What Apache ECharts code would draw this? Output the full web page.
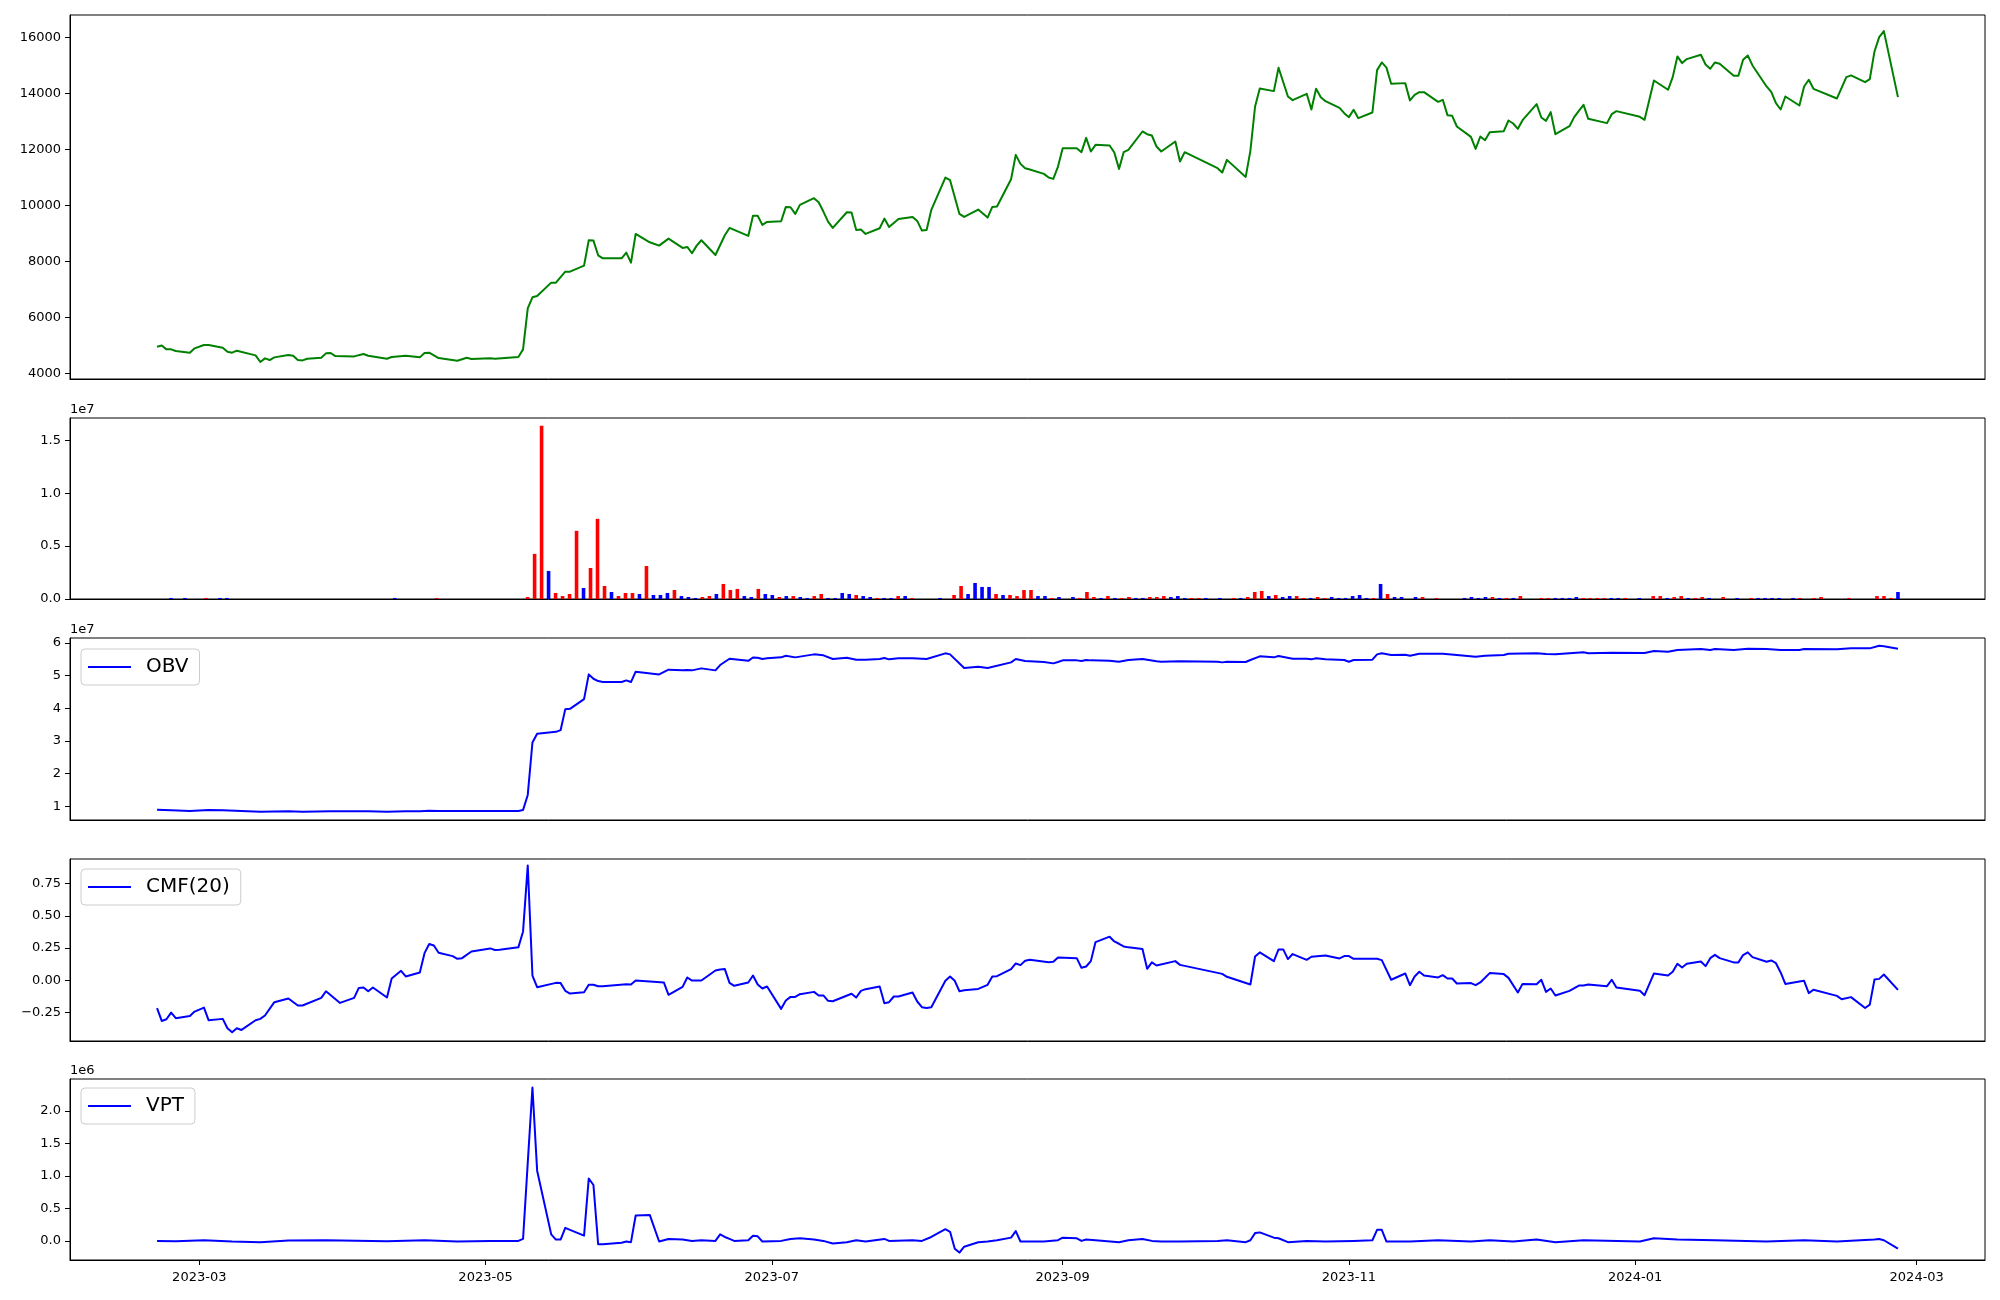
<!DOCTYPE html>
<html><head><meta charset="utf-8">
<script src="https://cdn.jsdelivr.net/npm/echarts@6/dist/echarts.min.js"></script>
<style>html,body{margin:0;padding:0;background:#fff}#c{width:2000px;height:1300px}</style>
</head><body><div id="c"></div>
<script>
// ---------------- DATA ----------------
const xTickLabels = ['2023-03','2023-05','2023-07','2023-09','2023-11','2024-01','2024-03'];
const priceTicks = [4000,6000,8000,10000,12000,14000,16000];
const volTicksE7 = [0,0.5,1.0,1.5];
const obvTicksE7 = [1,2,3,4,5,6];
const cmfTicks = [-0.25,0,0.25,0.5,0.75];
const vptTicksE6 = [0,0.5,1.0,1.5,2.0];
// market closed days (the volume panel is drawn by trading-day index)
const marketHolidays = ['2023-03-01','2023-05-01','2023-05-05','2023-05-29','2023-06-06','2023-08-15','2023-09-28','2023-09-29','2023-10-02','2023-10-03','2023-10-09','2023-12-25','2023-12-29','2024-01-01','2024-02-09','2024-02-12'];

const priceDates = [
'2023-02-20','2023-02-21','2023-02-22','2023-02-23','2023-02-24','2023-02-27','2023-02-28',
'2023-03-02','2023-03-03','2023-03-06','2023-03-07','2023-03-08','2023-03-09','2023-03-13','2023-03-14','2023-03-15','2023-03-16','2023-03-17','2023-03-20','2023-03-21','2023-03-22','2023-03-23','2023-03-24','2023-03-27','2023-03-28','2023-03-29','2023-03-30',
'2023-04-03','2023-04-05','2023-04-06','2023-04-10','2023-04-11','2023-04-14','2023-04-17','2023-04-18','2023-04-19','2023-04-21','2023-04-25','2023-04-27','2023-04-28',
'2023-05-02','2023-05-03','2023-05-08','2023-05-09','2023-05-10','2023-05-11','2023-05-12','2023-05-15','2023-05-16','2023-05-18','2023-05-19','2023-05-22','2023-05-23','2023-05-24','2023-05-25','2023-05-26','2023-05-30','2023-05-31',
'2023-06-01','2023-06-02','2023-06-05','2023-06-07','2023-06-09','2023-06-12','2023-06-13','2023-06-14','2023-06-15','2023-06-16','2023-06-19','2023-06-21','2023-06-22','2023-06-26','2023-06-27','2023-06-28','2023-06-29','2023-06-30',
'2023-07-03','2023-07-04','2023-07-05','2023-07-06','2023-07-07','2023-07-10','2023-07-11','2023-07-12','2023-07-13','2023-07-14','2023-07-17','2023-07-18','2023-07-19','2023-07-20','2023-07-21','2023-07-24','2023-07-25','2023-07-26','2023-07-28','2023-07-31',
'2023-08-01','2023-08-02','2023-08-03','2023-08-04','2023-08-07','2023-08-08','2023-08-10','2023-08-11','2023-08-14','2023-08-16','2023-08-17','2023-08-18','2023-08-21','2023-08-22','2023-08-23','2023-08-24','2023-08-25','2023-08-28','2023-08-29','2023-08-30','2023-08-31',
'2023-09-01','2023-09-04','2023-09-05','2023-09-06','2023-09-07','2023-09-08','2023-09-11','2023-09-12','2023-09-13','2023-09-14','2023-09-15','2023-09-18','2023-09-19','2023-09-20','2023-09-21','2023-09-22','2023-09-25','2023-09-26','2023-09-27',
'2023-10-04','2023-10-05','2023-10-06','2023-10-10','2023-10-11','2023-10-12','2023-10-13','2023-10-16','2023-10-17','2023-10-19','2023-10-20','2023-10-23','2023-10-24','2023-10-25','2023-10-26','2023-10-27','2023-10-30','2023-10-31',
'2023-11-01','2023-11-02','2023-11-03','2023-11-06','2023-11-07','2023-11-08','2023-11-09','2023-11-10','2023-11-13','2023-11-14','2023-11-15','2023-11-16','2023-11-17','2023-11-20','2023-11-21','2023-11-22','2023-11-23','2023-11-24','2023-11-27','2023-11-28','2023-11-29','2023-11-30',
'2023-12-01','2023-12-04','2023-12-05','2023-12-06','2023-12-07','2023-12-08','2023-12-11','2023-12-12','2023-12-13','2023-12-14','2023-12-15','2023-12-18','2023-12-19','2023-12-20','2023-12-21','2023-12-22','2023-12-26','2023-12-27','2023-12-28',
'2024-01-02','2024-01-03','2024-01-05','2024-01-08','2024-01-09','2024-01-10','2024-01-11','2024-01-12','2024-01-15','2024-01-16','2024-01-17','2024-01-18','2024-01-19','2024-01-22','2024-01-23','2024-01-24','2024-01-25','2024-01-26','2024-01-29','2024-01-30','2024-01-31',
'2024-02-01','2024-02-02','2024-02-05','2024-02-06','2024-02-07','2024-02-08','2024-02-13','2024-02-15','2024-02-16','2024-02-19','2024-02-20','2024-02-21','2024-02-22','2024-02-23','2024-02-26'
];
const priceValues = [
4950,4990,4855,4855,4795,4736,4891,
5010,5010,4914,4771,4736,4807,4640,4402,4533,4473,4569,4652,4628,4473,4461,4521,4557,4712,4724,4616,
4604,4688,4628,4521,4581,4628,4569,4724,4736,4545,4450,4557,4509,
4533,4521,4581,4855,6321,6714,6762,7239,7239,7632,7632,7847,8753,8741,8216,8109,8109,8312,
7954,8979,8681,8562,8812,8478,8514,8288,8562,8753,8228,8931,9194,8908,9630,9630,9301,9408,
9432,9945,9933,9694,10016,10255,10112,9778,9420,9194,9754,9742,9122,9134,8979,9182,9527,9229,9516,9587,
9444,9098,9122,9837,10994,10898,9694,9587,9849,9563,9945,9957,10934,11804,11482,11327,11280,11125,10994,10946,11387,
12043,12043,11900,12412,11923,12162,12138,11888,11304,11900,11983,12639,12543,12496,12102,11923,12281,11566,11900,
11327,11172,11625,11017,11947,13533,14176,14081,14915,13890,13759,13986,13425,14164,13866,13723,13485,13294,
13151,13413,13115,13318,14832,15106,14920,14343,14367,13747,13950,14045,14045,13699,13771,13223,13199,12817,12448,12019,12460,12329,
12615,12651,13032,12925,12734,13044,13616,13139,13020,13330,12543,12829,13151,13378,13592,13092,12937,13258,13366,
13163,13056,14462,14129,14582,15321,15082,15225,15380,15034,14880,15106,15058,14629,14629,15201,15356,14999,14248,14057,13652,
13425,13890,13568,14248,14486,14164,13819,14582,14642,14403,14510,15499,16012,16226,13866
];

// volume, in millions; volUp: 1 = red (up), 0 = blue (down)
const volDates = [
'2023-02-22','2023-02-24',
'2023-03-02','2023-03-06','2023-03-07',
'2023-04-10','2023-04-18',
'2023-05-09','2023-05-10','2023-05-11','2023-05-12','2023-05-15','2023-05-16','2023-05-17','2023-05-18','2023-05-19','2023-05-22','2023-05-23','2023-05-24','2023-05-25','2023-05-26','2023-05-30','2023-05-31',
'2023-06-01','2023-06-02','2023-06-05','2023-06-07','2023-06-08','2023-06-09','2023-06-12','2023-06-13','2023-06-14','2023-06-15','2023-06-16','2023-06-19','2023-06-20','2023-06-21','2023-06-22','2023-06-23','2023-06-26','2023-06-27','2023-06-28','2023-06-29','2023-06-30',
'2023-07-03','2023-07-04','2023-07-05','2023-07-06','2023-07-07','2023-07-10','2023-07-11','2023-07-12','2023-07-13','2023-07-14','2023-07-17','2023-07-18','2023-07-19','2023-07-20','2023-07-21','2023-07-24','2023-07-25','2023-07-26','2023-07-27',
'2023-08-02','2023-08-04','2023-08-07','2023-08-08','2023-08-09','2023-08-10','2023-08-11','2023-08-14','2023-08-16','2023-08-17','2023-08-18','2023-08-21','2023-08-22','2023-08-23','2023-08-24','2023-08-25','2023-08-28','2023-08-30','2023-08-31',
'2023-09-01','2023-09-04','2023-09-05','2023-09-06','2023-09-07','2023-09-08','2023-09-11','2023-09-12','2023-09-13','2023-09-14','2023-09-15','2023-09-18','2023-09-19','2023-09-20','2023-09-21','2023-09-22','2023-09-25','2023-09-26',
'2023-10-04','2023-10-06','2023-10-10','2023-10-11','2023-10-12','2023-10-13','2023-10-16','2023-10-17','2023-10-18','2023-10-19','2023-10-20','2023-10-23','2023-10-24','2023-10-25','2023-10-26','2023-10-27','2023-10-30','2023-10-31',
'2023-11-01','2023-11-02','2023-11-03','2023-11-06','2023-11-07','2023-11-08','2023-11-09','2023-11-10','2023-11-14','2023-11-15','2023-11-17','2023-11-23','2023-11-24','2023-11-27','2023-11-28','2023-11-29','2023-11-30',
'2023-12-01','2023-12-04','2023-12-05','2023-12-08','2023-12-11','2023-12-12','2023-12-13','2023-12-14','2023-12-15','2023-12-18','2023-12-19','2023-12-20','2023-12-21','2023-12-22','2023-12-26','2023-12-27',
'2024-01-02','2024-01-04','2024-01-05','2024-01-08','2024-01-09','2024-01-10','2024-01-11','2024-01-12','2024-01-15','2024-01-16','2024-01-18','2024-01-22','2024-01-24','2024-01-25','2024-01-26','2024-01-29','2024-01-30',
'2024-02-01','2024-02-02','2024-02-06','2024-02-07','2024-02-15','2024-02-21','2024-02-22','2024-02-23','2024-02-26'
];
const volMillions = [
0.1,0.1,
0.1,0.1,0.1,
0.1,0.1,
0.19,4.26,16.37,2.65,0.57,0.28,0.47,6.44,1.04,2.93,7.57,1.23,0.66,0.28,0.57,0.57,
0.47,3.12,0.38,0.38,0.57,0.85,0.28,0.19,0.1,0.19,0.28,0.47,1.42,0.85,0.95,0.28,0.19,0.95,0.47,0.38,0.19,
0.28,0.28,0.19,0.1,0.28,0.47,0.1,0.1,0.57,0.47,0.38,0.28,0.19,0.1,0.1,0.1,0.28,0.28,0.1,
0.1,0.38,1.23,0.47,1.51,1.14,1.14,0.47,0.38,0.38,0.28,0.85,0.85,0.28,0.28,0.1,0.19,0.19,0.1,
0.66,0.19,0.1,0.28,0.1,0.1,0.19,0.1,0.1,0.19,0.19,0.28,0.19,0.28,0.1,0.1,0.1,0.1,
0.1,0.1,0.1,0.19,0.66,0.76,0.28,0.38,0.19,0.28,0.28,0.1,0.1,0.19,0.1,0.19,0.1,0.1,
0.28,0.38,0.1,0.1,1.42,0.47,0.19,0.19,0.19,0.19,0.1,0.1,0.19,0.1,0.19,0.19,0.1,
0.1,0.1,0.28,0.1,0.1,0.1,0.1,0.1,0.19,0.1,0.1,0.1,0.1,0.1,0.1,0.1,
0.1,0.28,0.28,0.1,0.19,0.28,0.1,0.1,0.19,0.1,0.19,0.1,0.1,0.1,0.1,0.1,0.1,
0.1,0.1,0.1,0.19,0.1,0.28,0.28,0.1,0.66
];
const volUp = [
0,0,
1,0,0,
0,1,
1,1,1,0,1,1,1,1,0,1,1,1,0,1,1,1,
0,1,0,0,0,1,0,0,0,1,1,0,1,1,1,0,0,1,0,0,1,
0,1,0,0,1,1,0,0,0,0,1,0,0,1,0,0,1,0,1,
0,1,1,0,0,0,0,1,0,1,1,1,1,0,0,1,0,0,1,
1,1,0,1,0,1,1,0,0,1,1,1,0,0,0,1,1,0,
0,1,0,1,1,1,0,1,0,0,1,1,0,1,1,0,0,0,
0,0,0,1,0,1,0,0,0,1,1,0,0,0,0,1,0,
1,0,1,1,1,0,0,0,0,1,1,1,1,0,0,1,
0,1,1,0,1,1,0,1,1,0,1,0,1,0,0,0,0,
0,1,1,1,1,1,1,1,0
];

// OBV, in units of 1e7
const obvDates = [
'2023-02-20','2023-02-23','2023-02-27',
'2023-03-03','2023-03-06','2023-03-10','2023-03-14','2023-03-20','2023-03-23','2023-03-29',
'2023-04-03','2023-04-06','2023-04-10','2023-04-14','2023-04-17','2023-04-19','2023-04-21','2023-04-26',
'2023-05-02','2023-05-04','2023-05-08','2023-05-09','2023-05-10','2023-05-11','2023-05-12','2023-05-16','2023-05-17','2023-05-18','2023-05-19','2023-05-22','2023-05-23','2023-05-24','2023-05-25','2023-05-26','2023-05-30','2023-05-31',
'2023-06-01','2023-06-02','2023-06-07','2023-06-09','2023-06-12','2023-06-13','2023-06-14','2023-06-16','2023-06-19','2023-06-20','2023-06-22','2023-06-26','2023-06-27','2023-06-28','2023-06-29','2023-06-30',
'2023-07-03','2023-07-04','2023-07-06','2023-07-10','2023-07-12','2023-07-14','2023-07-17','2023-07-19','2023-07-21','2023-07-24','2023-07-25','2023-07-26','2023-07-28','2023-07-31',
'2023-08-03','2023-08-07','2023-08-08','2023-08-11','2023-08-14','2023-08-16','2023-08-21','2023-08-22','2023-08-24','2023-08-28','2023-08-30','2023-08-31',
'2023-09-01','2023-09-04','2023-09-05','2023-09-06','2023-09-07','2023-09-11','2023-09-13','2023-09-15','2023-09-18','2023-09-21','2023-09-22','2023-09-26',
'2023-10-04','2023-10-05','2023-10-06','2023-10-10','2023-10-11','2023-10-13','2023-10-16','2023-10-17','2023-10-20','2023-10-23','2023-10-24','2023-10-25','2023-10-27','2023-10-31',
'2023-11-01','2023-11-02','2023-11-06','2023-11-07','2023-11-08','2023-11-10','2023-11-13','2023-11-14','2023-11-16','2023-11-21','2023-11-24','2023-11-28','2023-11-30',
'2023-12-04','2023-12-05','2023-12-11','2023-12-13','2023-12-15','2023-12-18','2023-12-21','2023-12-22','2023-12-27',
'2024-01-03','2024-01-05','2024-01-08','2024-01-10','2024-01-15','2024-01-17','2024-01-18','2024-01-22','2024-01-25','2024-01-29',
'2024-02-01','2024-02-05','2024-02-06','2024-02-13','2024-02-16','2024-02-20','2024-02-22','2024-02-23','2024-02-26'
];
const obvE7 = [
0.898,0.877,0.857,
0.888,0.877,0.857,0.836,0.847,0.836,0.847,
0.847,0.847,0.836,0.847,0.847,0.867,0.857,0.857,
0.857,0.857,0.857,0.888,1.348,2.953,3.219,3.280,3.331,3.975,3.985,4.282,5.039,4.906,4.834,4.804,4.804,4.855,
4.804,5.121,5.039,5.182,5.162,5.172,5.162,5.223,5.162,5.325,5.519,5.453,5.555,5.550,5.509,5.530,
5.560,5.611,5.560,5.652,5.622,5.509,5.550,5.489,5.489,5.509,5.540,5.499,5.530,5.530,
5.509,5.683,5.652,5.233,5.274,5.233,5.407,5.509,5.448,5.417,5.376,5.417,
5.468,5.468,5.448,5.479,5.468,5.458,5.427,5.479,5.509,5.438,5.427,5.438,
5.427,5.407,5.427,5.417,5.479,5.591,5.560,5.601,5.519,5.519,5.499,5.530,5.499,5.479,
5.427,5.479,5.489,5.652,5.683,5.632,5.642,5.611,5.673,5.673,5.632,5.581,5.611,
5.632,5.673,5.683,5.663,5.652,5.683,5.714,5.683,5.703,
5.693,5.755,5.734,5.785,5.816,5.785,5.816,5.785,5.826,5.816,
5.785,5.785,5.816,5.806,5.836,5.836,5.918,5.898,5.826
];

// CMF(20)
const cmfDates = [
'2023-02-20','2023-02-21','2023-02-22','2023-02-23','2023-02-24','2023-02-27','2023-02-28',
'2023-03-02','2023-03-03','2023-03-06','2023-03-07','2023-03-08','2023-03-09','2023-03-10','2023-03-13','2023-03-14','2023-03-15','2023-03-17','2023-03-20','2023-03-22','2023-03-23','2023-03-27','2023-03-28','2023-03-31',
'2023-04-03','2023-04-04','2023-04-05','2023-04-06','2023-04-07','2023-04-10','2023-04-11','2023-04-13','2023-04-14','2023-04-17','2023-04-18','2023-04-19','2023-04-20','2023-04-21','2023-04-24','2023-04-25','2023-04-26','2023-04-28',
'2023-05-02','2023-05-03','2023-05-04','2023-05-08','2023-05-09','2023-05-10','2023-05-11','2023-05-12','2023-05-16','2023-05-17','2023-05-18','2023-05-19','2023-05-22','2023-05-23','2023-05-24','2023-05-25','2023-05-26','2023-05-31',
'2023-06-01','2023-06-02','2023-06-08','2023-06-09','2023-06-12','2023-06-13','2023-06-14','2023-06-16','2023-06-19','2023-06-20','2023-06-21','2023-06-22','2023-06-23','2023-06-26','2023-06-27','2023-06-28','2023-06-29','2023-06-30',
'2023-07-03','2023-07-04','2023-07-05','2023-07-06','2023-07-07','2023-07-10','2023-07-11','2023-07-12','2023-07-13','2023-07-14','2023-07-18','2023-07-19','2023-07-20','2023-07-21','2023-07-24','2023-07-25','2023-07-26','2023-07-27','2023-07-28','2023-07-31',
'2023-08-01','2023-08-02','2023-08-03','2023-08-04','2023-08-07','2023-08-08','2023-08-09','2023-08-10','2023-08-11','2023-08-14','2023-08-16','2023-08-17','2023-08-18','2023-08-21','2023-08-22','2023-08-23','2023-08-24','2023-08-25','2023-08-29','2023-08-30','2023-08-31',
'2023-09-04','2023-09-05','2023-09-06','2023-09-07','2023-09-08','2023-09-11','2023-09-12','2023-09-13','2023-09-14','2023-09-15','2023-09-18','2023-09-19','2023-09-20','2023-09-21','2023-09-25','2023-09-26',
'2023-10-05','2023-10-06','2023-10-11','2023-10-12','2023-10-13','2023-10-16','2023-10-17','2023-10-18','2023-10-19','2023-10-20','2023-10-23','2023-10-24','2023-10-27','2023-10-30','2023-10-31',
'2023-11-01','2023-11-02','2023-11-07','2023-11-08','2023-11-10','2023-11-13','2023-11-14','2023-11-15','2023-11-16','2023-11-17','2023-11-20','2023-11-21','2023-11-22','2023-11-23','2023-11-24','2023-11-27','2023-11-28','2023-11-29',
'2023-12-01','2023-12-04','2023-12-05','2023-12-07','2023-12-08','2023-12-11','2023-12-12','2023-12-13','2023-12-14','2023-12-15','2023-12-18','2023-12-20','2023-12-21','2023-12-22','2023-12-26','2023-12-27','2023-12-28',
'2024-01-02','2024-01-03','2024-01-05','2024-01-08','2024-01-09','2024-01-10','2024-01-11','2024-01-12','2024-01-15','2024-01-16','2024-01-17','2024-01-18','2024-01-19','2024-01-22','2024-01-23','2024-01-24','2024-01-25','2024-01-26','2024-01-29','2024-01-30','2024-01-31',
'2024-02-01','2024-02-02','2024-02-05','2024-02-06','2024-02-07','2024-02-08','2024-02-13','2024-02-14','2024-02-16','2024-02-19','2024-02-20','2024-02-21','2024-02-22','2024-02-23','2024-02-26'
];
const cmfValues = [
-0.218,-0.317,-0.304,-0.252,-0.296,-0.278,-0.244,
-0.213,-0.312,-0.301,-0.374,-0.405,-0.374,-0.387,-0.312,-0.301,-0.275,-0.171,-0.143,-0.197,-0.197,-0.138,-0.086,-0.177,
-0.138,-0.060,-0.057,-0.086,-0.057,-0.135,0.013,0.073,0.029,0.060,0.210,0.281,0.270,0.213,0.187,0.166,0.171,0.223,
0.247,0.234,0.236,0.255,0.379,0.891,0.036,-0.055,-0.021,-0.023,-0.083,-0.104,-0.094,-0.036,-0.036,-0.047,-0.047,-0.031,
-0.034,-0.003,-0.018,-0.114,-0.052,0.021,-0.003,-0.003,0.075,0.083,0.086,-0.021,-0.044,-0.018,0.036,-0.034,-0.065,-0.049,
-0.223,-0.158,-0.130,-0.130,-0.109,-0.091,-0.119,-0.119,-0.161,-0.164,-0.106,-0.135,-0.083,-0.070,-0.049,-0.179,-0.171,-0.127,-0.127,-0.096,
-0.166,-0.210,-0.216,-0.210,-0.005,0.029,-0.005,-0.086,-0.078,-0.068,-0.036,0.029,0.031,0.086,0.130,0.117,0.151,0.158,0.140,0.143,0.177,
0.171,0.096,0.106,0.148,0.296,0.338,0.301,0.283,0.262,0.255,0.242,0.088,0.138,0.114,0.148,0.119,
0.049,0.026,-0.034,0.184,0.216,0.148,0.239,0.239,0.164,0.203,0.158,0.182,0.192,0.169,0.187,
0.187,0.166,0.166,0.156,0.003,0.052,-0.039,0.029,0.065,0.036,0.021,0.039,0.013,0.013,-0.026,-0.023,-0.039,-0.018,
0.055,0.047,0.018,-0.096,-0.029,-0.031,0.003,-0.091,-0.065,-0.119,-0.083,-0.042,-0.042,-0.034,-0.047,0.003,-0.057,
-0.083,-0.117,0.052,0.036,0.065,0.127,0.099,0.127,0.145,0.109,0.171,0.197,0.171,0.138,0.138,0.195,0.216,0.179,0.143,0.153,0.132,
0.060,-0.029,-0.010,-0.005,-0.101,-0.075,-0.122,-0.148,-0.132,-0.216,-0.190,0.005,0.010,0.044,-0.075
];

// VPT, in units of 1e6
const vptDates = [
'2023-02-20','2023-02-24',
'2023-03-02','2023-03-08','2023-03-14','2023-03-20','2023-03-28',
'2023-04-10','2023-04-18','2023-04-25',
'2023-05-02','2023-05-08','2023-05-09','2023-05-10','2023-05-11','2023-05-12','2023-05-15','2023-05-16','2023-05-17','2023-05-18','2023-05-19','2023-05-22','2023-05-23','2023-05-24','2023-05-25','2023-05-26','2023-05-30','2023-05-31',
'2023-06-01','2023-06-02','2023-06-05','2023-06-07','2023-06-09','2023-06-12','2023-06-14','2023-06-16','2023-06-19','2023-06-20','2023-06-21','2023-06-22','2023-06-23','2023-06-26','2023-06-27','2023-06-28','2023-06-29',
'2023-07-03','2023-07-05','2023-07-07','2023-07-10','2023-07-12','2023-07-14','2023-07-17','2023-07-19','2023-07-21','2023-07-25','2023-07-26','2023-07-31',
'2023-08-02','2023-08-04','2023-08-07','2023-08-08','2023-08-09','2023-08-10','2023-08-11','2023-08-14','2023-08-16','2023-08-18','2023-08-21','2023-08-22','2023-08-23','2023-08-25','2023-08-28','2023-08-31',
'2023-09-01','2023-09-04','2023-09-05','2023-09-06','2023-09-08','2023-09-13','2023-09-15','2023-09-18','2023-09-20','2023-09-22','2023-09-26',
'2023-10-04','2023-10-06','2023-10-10','2023-10-11','2023-10-12','2023-10-13','2023-10-16','2023-10-17','2023-10-19','2023-10-23','2023-10-27',
'2023-11-02','2023-11-06','2023-11-07','2023-11-08','2023-11-09','2023-11-14','2023-11-20','2023-11-27',
'2023-12-01','2023-12-06','2023-12-11','2023-12-15','2023-12-21',
'2024-01-02','2024-01-05','2024-01-10','2024-01-18','2024-01-29',
'2024-02-06','2024-02-13','2024-02-21','2024-02-22','2024-02-23','2024-02-26'
];
const vptE6 = [
0,-0.005,
0.01,-0.01,-0.02,0.005,0.01,
-0.005,0.01,-0.01,
0,0,0.03,1.2,2.36,1.08,0.1,0.02,0.02,0.2,0.17,0.08,0.96,0.86,-0.05,-0.05,-0.03,-0.01,
-0.02,0.39,0.4,-0.01,0.03,0.02,0,0.01,0,0.1,0.06,0.03,0,0.01,0.08,0.07,-0.01,
0,0.03,0.04,0.02,0,-0.04,-0.02,0.01,-0.01,0.03,0,0.01,
0,0.06,0.18,0.14,-0.12,-0.18,-0.09,-0.02,-0.01,0.01,0.05,0.15,-0.01,-0.01,-0.01,0.01,
0.05,0.04,0,0.02,0.01,-0.02,0.01,0.03,0,-0.01,-0.01,
0,0.01,-0.02,0.01,0.12,0.13,0.05,0.04,-0.02,0,-0.01,
0,0.01,0.17,0.17,-0.01,-0.01,0.01,-0.01,
0.01,-0.01,0.02,-0.02,0.01,
-0.01,0.04,0.02,0.01,-0.01,
0.01,-0.01,0.02,0.03,0.01,-0.12
];

// ---------------- CHART ----------------
const FONT = 'DejaVu Sans';
function ts(s){ const p = s.split('-').map(Number); return new Date(p[0], p[1]-1, p[2] || 1).getTime(); }
function iso(d){ return d.getFullYear() + '-' + String(d.getMonth()+1).padStart(2,'0') + '-' + String(d.getDate()).padStart(2,'0'); }
function pairs(d, v, k){ return d.map((s,i)=>[ts(s), v[i]*(k||1)]); }
[[priceDates,priceValues],[volDates,volMillions],[volDates,volUp],[obvDates,obvE7],[cmfDates,cmfValues],[vptDates,vptE6]].forEach((p,i)=>{ if(p[0].length!==p[1].length) console.error('length mismatch', i, p[0].length, p[1].length); });

const t0 = ts(priceDates[0]), t1 = ts(priceDates[priceDates.length-1]);
const pad = (t1 - t0) * 0.05;
const xMin = t0 - pad, xMax = t1 + pad;
const xTickVals = xTickLabels.map(s => ts(s + '-01'));

// trading-day calendar -> index axis for the volume panel
const tradingDays = [];
{
  const p = priceDates[0].split('-').map(Number);
  for (let d = new Date(p[0], p[1]-1, p[2]); d.getTime() <= t1; d = new Date(d.getFullYear(), d.getMonth(), d.getDate()+1)) {
    const wd = d.getDay(), s = iso(d);
    if (wd !== 0 && wd !== 6 && marketHolidays.indexOf(s) < 0) tradingDays.push(s);
  }
}
const nDays = tradingDays.length;
const volData = volDates.map((s,i) => [tradingDays.indexOf(s), volMillions[i]*1e6]);

const grids = [
  {left:70, right:15, top:15, height:364},
  {left:70, right:15, top:418, height:181},
  {left:70, right:15, top:638, height:182},
  {left:70, right:15, top:859, height:182},
  {left:70, right:15, top:1079, height:181}
].map(g => Object.assign(g, {show:true, borderColor:'#000', borderWidth:1, backgroundColor:'transparent'}));

const xAxes = grids.map((g, i) => ({
  type:'value', gridIndex:i, min:xMin, max:xMax, scale:true,
  axisLine:{show:true, onZero:false, lineStyle:{color:'#000', width:1}},
  axisTick:{show:i===4, customValues:xTickVals, length:5, lineStyle:{color:'#000', width:1}},
  axisLabel:{show:i===4, customValues:xTickVals, fontSize:13, color:'#000', fontFamily:FONT, margin:11,
    formatter: v => { const d = new Date(v); return d.getFullYear() + '-' + String(d.getMonth()+1).padStart(2,'0'); }},
  splitLine:{show:false}, splitArea:{show:false}
}));
// volume panel: trading-day index axis with the same 5% margins
xAxes[1].min = -0.05*(nDays-1);
xAxes[1].max = (nDays-1)*1.05;

function yAx(i, min, max, ticks, fmt, name){
  return {
    type:'value', gridIndex:i, min:min, max:max,
    axisLine:{show:true, onZero:false, lineStyle:{color:'#000', width:1}},
    axisTick:{show:true, customValues:ticks, length:5, lineStyle:{color:'#000', width:1}},
    axisLabel:{customValues:ticks, formatter:fmt, fontSize:13, color:'#000', fontFamily:FONT, margin:9},
    splitLine:{show:false},
    name: name || '', nameLocation:'end', nameGap:2,
    nameTextStyle:{align:'left', verticalAlign:'bottom', fontSize:13, color:'#000', fontFamily:FONT, padding:[0,0,0,0]}
  };
}
const yAxes = [
  yAx(0, 3796, 16801, priceTicks, v => String(Math.round(v))),
  yAx(1, 0, 1.7098e7, volTicksE7.map(v=>v*1e7), v => (v/1e7).toFixed(1), '1e7'),
  yAx(2, 0.581e7, 6.153e7, obvTicksE7.map(v=>v*1e7), v => String(Math.round(v/1e7)), '1e7'),
  yAx(3, -0.473, 0.942, cmfTicks, v => (v < 0 ? '\u2212' : '') + Math.abs(v).toFixed(2)),
  yAx(4, -0.294e6, 2.49e6, vptTicksE6.map(v=>v*1e6), v => (v/1e6).toFixed(1), '1e6')
];

function leg(name, top){
  return {data:[name], left:81, top:top, icon:'rect', itemWidth:43, itemHeight:2, selectedMode:false,
    padding:[8,11,8,7], borderColor:'#cccccc', borderWidth:1, borderRadius:4, backgroundColor:'rgba(255,255,255,0.8)',
    textStyle:{fontSize:20, color:'#000', fontFamily:FONT, padding:[0,0,0,10]}};
}

const lineBase = {type:'line', showSymbol:false, symbol:'none', animation:false, silent:true};
const option = {
  animation:false,
  backgroundColor:'#fff',
  grid: grids,
  xAxis: xAxes,
  yAxis: yAxes,
  legend: [leg('OBV', 649), leg('CMF(20)', 869), leg('VPT', 1088)],
  series: [
    Object.assign({}, lineBase, {name:'Close', xAxisIndex:0, yAxisIndex:0, data:pairs(priceDates, priceValues), color:'#008000', lineStyle:{color:'#008000', width:2, join:'round'}}),
    {name:'Volume', type:'bar', xAxisIndex:1, yAxisIndex:1, barWidth:3.6, animation:false, silent:true,
      data:volData,
      itemStyle:{color: p => volUp[p.dataIndex] ? '#ff0000' : '#0000ff'}},
    Object.assign({}, lineBase, {name:'OBV', xAxisIndex:2, yAxisIndex:2, data:pairs(obvDates, obvE7, 1e7), color:'#0000ff', lineStyle:{color:'#0000ff', width:2, join:'round'}}),
    Object.assign({}, lineBase, {name:'CMF(20)', xAxisIndex:3, yAxisIndex:3, data:pairs(cmfDates, cmfValues), color:'#0000ff', lineStyle:{color:'#0000ff', width:2, join:'round'}}),
    Object.assign({}, lineBase, {name:'VPT', xAxisIndex:4, yAxisIndex:4, data:pairs(vptDates, vptE6, 1e6), color:'#0000ff', lineStyle:{color:'#0000ff', width:2, join:'round'}})
  ]
};
const chart = echarts.init(document.getElementById('c'), null, {renderer:'canvas'});
chart.setOption(option);
</script>
</body></html>
